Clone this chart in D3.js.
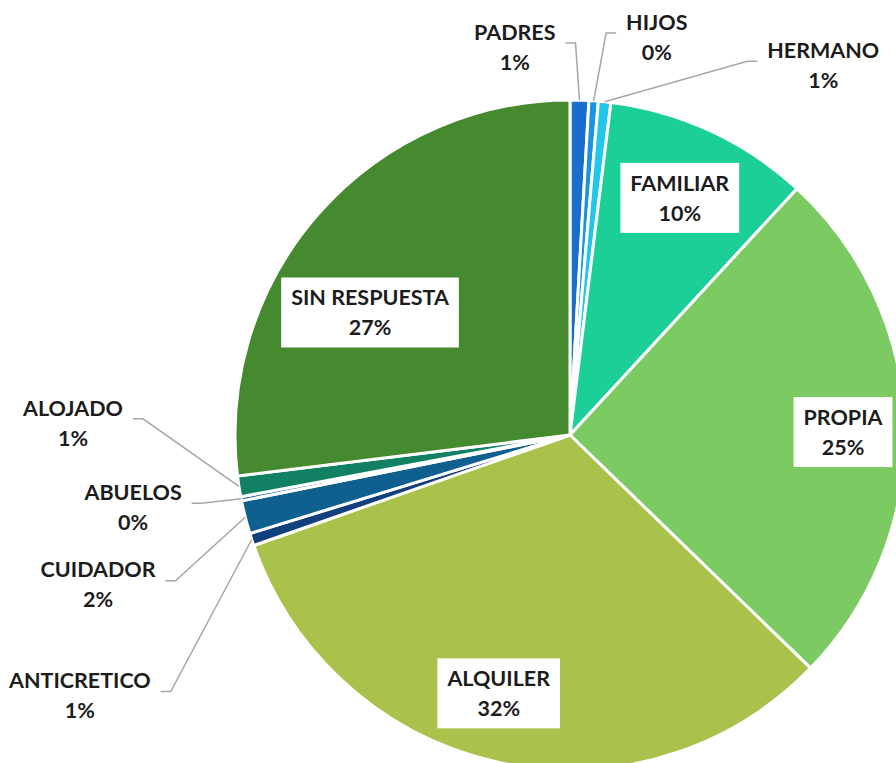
<!DOCTYPE html>
<html>
<head>
<meta charset="utf-8">
<script src="https://cdn.jsdelivr.net/npm/d3@7"></script>
<style>
  body { margin: 0; background: #fff; }
  text { font-family: Lato, "Noto Sans", sans-serif; font-weight: bold; fill: #1c1c1c; }
</style>
</head>
<body>
<div id="vis"></div>
<script>
// data (percent of total, clockwise from 12 o'clock)
const categories = ["PADRES", "HIJOS", "HERMANO", "FAMILIAR", "PROPIA", "ALQUILER",
  "ANTICRETICO", "CUIDADOR", "ABUELOS", "ALOJADO", "SIN RESPUESTA"]
const values = [0.9, 0.45, 0.6, 9.9, 25.4, 32.4, 0.6, 1.6, 0.2, 1.0, 26.95]
const colors = ["#1a6dcc", "#1b93de", "#22c6e8", "#1ccf98", "#7cca62", "#a9c24b",
  "#123f7d", "#0f5f8f", "#1a5ea8", "#128062", "#468a2f"]

// label layout: inside labels relative to slice centre, outside labels in polar coords
const insideLayout = {
  "FAMILIAR": { r: 0.78, shift: 0 },
  "PROPIA": { r: 0.815, shift: 1 },
  "ALQUILER": { r: 0.80, shift: 3 },
  "SIN RESPUESTA": { r: 0.70, shift: -10 }
}
const outsideLayout = {
  "PADRES": { a: 351.9, r: 1.17 },
  "HIJOS": { a: 12.3, r: 1.216 },
  "HERMANO": { a: 34.4, r: 1.338 },
  "ALOJADO": { a: 271.4, r: 1.484 },
  "ABUELOS": { a: 260.6, r: 1.322 },
  "CUIDADOR": { a: 252.4, r: 1.478 },
  "ANTICRETICO": { a: 242, r: 1.657 }
}

let svgWidth = 896
let svgHeight = 763
let radius = 335
let cx = 570, cy = 435
let fontSize = 21.5

let svg = d3.select('#vis')
    .append('svg')
    .attr('width', svgWidth)
    .attr('height', svgHeight)

let g = svg.append('g')
    .attr('transform', `translate(${cx},${cy})`)

let data = categories.map((c, i) => ({ name: c, value: values[i], color: colors[i] }))
let total = d3.sum(values)

let pie = d3.pie()
    .sort(null)
    .value(d => d.value)

let arc = d3.arc()
    .innerRadius(0)
    .outerRadius(radius)

let arcs = pie(data)

// slices
g.selectAll('path.slice')
    .data(arcs)
    .join('path')
    .attr('class', 'slice')
    .attr('d', arc)
    .attr('fill', d => d.data.color)
    .attr('stroke', '#fff')
    .attr('stroke-width', 3)
    .attr('stroke-linejoin', 'round')

const pct = d => Math.round(d.data.value / total * 100) + '%'
const polar = (deg, r) => {
    let rad = deg * Math.PI / 180
    return [r * Math.sin(rad), -r * Math.cos(rad)]
}

// label groups
let labels = g.selectAll('g.label')
    .data(arcs)
    .join('g')
    .attr('class', 'label')
    .each(function(d) {
        let mid = (d.startAngle + d.endAngle) / 2 * 180 / Math.PI
        let inL = insideLayout[d.data.name]
        let outL = outsideLayout[d.data.name]
        let pos = inL ? polar(mid + inL.shift, inL.r * radius) : polar(outL.a, outL.r * radius)
        d.pos = pos
        d.inside = !!inL
        d.mid = mid
    })
    .attr('transform', d => `translate(${d.pos[0]},${d.pos[1]})`)

labels.each(function(d) {
    let lg = d3.select(this)
    let box = lg.append('rect').attr('fill', '#fff')
    let t1 = lg.append('text')
        .attr('text-anchor', 'middle')
        .attr('y', -15).attr('dy', '0.36em')
        .attr('font-size', fontSize)
        .text(d.data.name)
    let t2 = lg.append('text')
        .attr('text-anchor', 'middle')
        .attr('y', 15).attr('dy', '0.36em')
        .attr('font-size', fontSize)
        .text(pct(d))
    let w = Math.max(t1.node().getComputedTextLength(), t2.node().getComputedTextLength())
    d.textW = w
    if (d.inside) {
        box.attr('x', -w / 2 - 10).attr('y', -35)
            .attr('width', w + 20).attr('height', 70)
    } else {
        box.remove()
    }
})

// leader lines for the outside labels
let outside = arcs.filter(d => outsideLayout[d.data.name])
g.selectAll('path.leader')
    .data(outside)
    .join('path')
    .attr('class', 'leader')
    .attr('fill', 'none')
    .attr('stroke', '#a6a6a6')
    .attr('stroke-width', 1.5)
    .attr('d', d => {
        let edge = polar(d.mid, radius)
        let left = d.pos[0] < edge[0]
        let sx = left ? d.pos[0] + d.textW / 2 + 10 : d.pos[0] - d.textW / 2 - 10
        let ly = d.pos[1] - 4
        let hx = left ? sx + 10 : sx - 10
        return d3.line()([[sx, ly], [hx, ly], edge])
    })
</script>
</body>
</html>
